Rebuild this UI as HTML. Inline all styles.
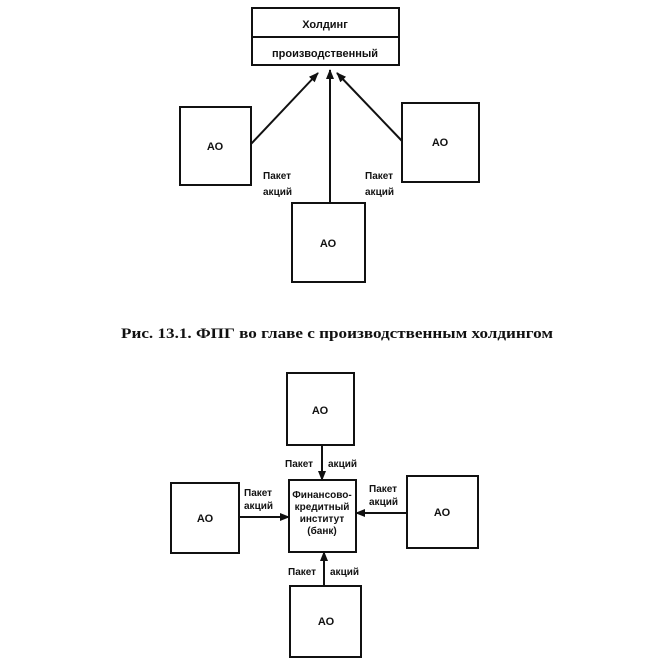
<!DOCTYPE html>
<html><head><meta charset="utf-8"><style>body{margin:0;background:#fff}svg{display:block}</style></head>
<body>
<svg width="661" height="672" viewBox="0 0 661 672" xmlns="http://www.w3.org/2000/svg" font-family="Liberation Sans, sans-serif" font-weight="bold" fill="#111">
<defs><marker id="a" markerWidth="10" markerHeight="8" refX="9" refY="4" orient="auto" markerUnits="userSpaceOnUse"><path d="M0,0 L10,4 L0,8 Z" fill="#111"/></marker></defs>
<g fill="none" stroke="#111" stroke-width="2">
<rect x="252" y="8" width="147" height="57"/><line x1="252" y1="37" x2="399" y2="37"/>
<rect x="180" y="107" width="71" height="78"/>
<rect x="402" y="103" width="77" height="79"/>
<rect x="292" y="203" width="73" height="79"/>
<line x1="251" y1="144" x2="318" y2="73" marker-end="url(#a)"/>
<line x1="330" y1="203" x2="330" y2="70" marker-end="url(#a)"/>
<line x1="402" y1="141" x2="337" y2="73" marker-end="url(#a)"/>
<rect x="287" y="373" width="67" height="72"/>
<rect x="289" y="480" width="67" height="72"/>
<rect x="171" y="483" width="68" height="70"/>
<rect x="407" y="476" width="71" height="72"/>
<rect x="290" y="586" width="71" height="71"/>
<line x1="322" y1="445" x2="322" y2="480" marker-end="url(#a)"/>
<line x1="239" y1="517" x2="289" y2="517" marker-end="url(#a)"/>
<line x1="407" y1="513" x2="356" y2="513" marker-end="url(#a)"/>
<line x1="324" y1="586" x2="324" y2="552" marker-end="url(#a)"/>
</g>
<g font-size="11" text-anchor="middle">
<text x="325" y="28">Холдинг</text>
<text x="325" y="57">производственный</text>
<text x="215" y="150">АО</text><text x="440" y="146">АО</text><text x="328" y="247">АО</text>
<text x="320" y="414">АО</text><text x="205" y="522">АО</text><text x="442" y="516">АО</text><text x="326" y="625">АО</text>
<text x="322" y="498" font-size="10">Финансово-</text>
<text x="322" y="510" font-size="10">кредитный</text>
<text x="322" y="522" font-size="10">институт</text>
<text x="322" y="534" font-size="10">(банк)</text>
</g>
<g font-size="10">
<text x="263" y="179">Пакет</text><text x="263" y="195">акций</text>
<text x="365" y="179">Пакет</text><text x="365" y="195">акций</text>
<text x="285" y="467">Пакет</text><text x="328" y="467">акций</text>
<text x="244" y="496">Пакет</text><text x="244" y="509">акций</text>
<text x="369" y="492">Пакет</text><text x="369" y="505">акций</text>
<text x="288" y="575">Пакет</text><text x="330" y="575">акций</text>
</g>
<text x="121" y="338" font-family="Liberation Serif, serif" font-size="15" textLength="432" lengthAdjust="spacingAndGlyphs">Рис. 13.1. ФПГ во главе с производственным холдингом</text>
</svg>
</body></html>
